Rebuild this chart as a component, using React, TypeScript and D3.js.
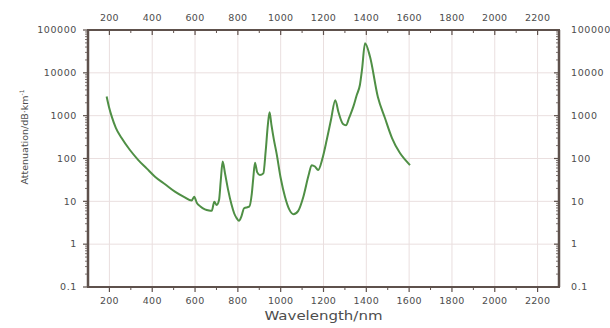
import React, { useEffect, useRef } from 'react';
import * as d3 from 'd3';

// wavelength (nm) and attenuation (dB/km)
const wavelengths = [187, 198, 211, 230, 257, 295, 335, 375, 413, 460, 506, 550, 584, 596, 608, 625, 646, 665, 678, 690, 701, 712, 720, 729, 740, 755, 770, 783, 795, 805, 817, 829, 853, 865, 872, 880, 890, 903, 919, 930, 940, 948, 957, 968, 981, 1000, 1020, 1040, 1060, 1082, 1106, 1130, 1145, 1160, 1175, 1195, 1215, 1235, 1255, 1270, 1290, 1305, 1320, 1339, 1355, 1370, 1380, 1394, 1417, 1454, 1487, 1520, 1557, 1580, 1604];
const attenuation = [2800, 1600, 950, 520, 300, 160, 92, 58, 37.6, 25, 16.8, 12.5, 10.4, 12.8, 9.3, 7.6, 6.5, 6.1, 6, 9.8, 8.2, 10.7, 30, 85, 45, 18, 8.5, 5.2, 4, 3.5, 4.5, 6.9, 7.5, 15, 35, 80, 48, 41, 45, 150, 600, 1200, 600, 280, 130, 35, 12.8, 6.5, 5, 6, 12.8, 40, 70, 65, 54, 100, 270, 800, 2300, 1200, 650, 600, 900, 1600, 3000, 5200, 12000, 49000, 24000, 2730, 880, 300, 134, 95, 70];

const xTicks = [200, 400, 600, 800, 1000, 1200, 1400, 1600, 1800, 2000, 2200];
const yTicks = [0.1, 1, 10, 100, 1000, 10000, 100000];
const yTickLabels = ['0.1', '1', '10', '100', '1000', '10000', '100000'];

const W = 610;
const H = 328;
const axisColor = '#5e514c';
const gridColor = '#eadfdf';
const textColor = '#4d4d4d';
const font = 'DejaVu Sans, sans-serif';

const App = () => {
    const svgRef = useRef<SVGSVGElement>(null);

    useEffect(() => {
        if (!svgRef.current) return;
        const svg = d3.select(svgRef.current);
        svg.selectAll('*').remove();

        const x = d3.scaleLinear().domain([100, 2300]).range([88, 559]);
        const y = d3.scaleLog().domain([0.1, 100000]).range([287, 30]);
        const [x0, x1] = x.range();
        const [y0, y1] = y.range();

        // grid
        const grid = svg.append('g').attr('stroke', gridColor).attr('stroke-width', 1);
        xTicks.forEach(t => grid.append('line').attr('x1', x(t)).attr('x2', x(t)).attr('y1', y1).attr('y2', y0));
        yTicks.slice(1, -1).forEach(t => grid.append('line').attr('x1', x0).attr('x2', x1).attr('y1', y(t)).attr('y2', y(t)));

        // curve
        const data = wavelengths.map((w, i) => [w, attenuation[i]] as [number, number]);
        const line = d3.line<[number, number]>()
            .x(d => x(d[0]))
            .y(d => y(d[1]))
            .curve(d3.curveMonotoneX);
        svg.append('path')
            .datum(data)
            .attr('d', line)
            .attr('fill', 'none')
            .attr('stroke', '#4f8f45')
            .attr('stroke-width', 2)
            .attr('stroke-linejoin', 'round');

        // frame
        const ax = svg.append('g').attr('stroke', axisColor);
        ax.append('line').attr('x1', x0 - 1).attr('x2', x1 + 1).attr('y1', y1).attr('y2', y1).attr('stroke-width', 2);
        ax.append('line').attr('x1', x0 - 1).attr('x2', x1 + 1).attr('y1', y0).attr('y2', y0).attr('stroke-width', 2);
        ax.append('line').attr('x1', x0).attr('x2', x0).attr('y1', y1).attr('y2', y0).attr('stroke-width', 2.5);
        ax.append('line').attr('x1', x1).attr('x2', x1).attr('y1', y1).attr('y2', y0).attr('stroke-width', 2.5);

        // x ticks (major + minor), top pointing in, bottom pointing out
        const minorX = d3.range(300, 2300, 200);
        xTicks.forEach(t => {
            ax.append('line').attr('x1', x(t)).attr('x2', x(t)).attr('y1', y1).attr('y2', y1 + 5).attr('stroke-width', 1.2);
            ax.append('line').attr('x1', x(t)).attr('x2', x(t)).attr('y1', y0).attr('y2', y0 + 5).attr('stroke-width', 1.2);
        });
        minorX.forEach(t => {
            ax.append('line').attr('x1', x(t)).attr('x2', x(t)).attr('y1', y1).attr('y2', y1 + 3).attr('stroke-width', 1);
            ax.append('line').attr('x1', x(t)).attr('x2', x(t)).attr('y1', y0).attr('y2', y0 + 3).attr('stroke-width', 1);
        });

        // y ticks (log minor)
        yTicks.forEach(t => {
            ax.append('line').attr('x1', x0 - 5).attr('x2', x0).attr('y1', y(t)).attr('y2', y(t)).attr('stroke-width', 1.2);
            ax.append('line').attr('x1', x1 - 5).attr('x2', x1).attr('y1', y(t)).attr('y2', y(t)).attr('stroke-width', 1.2);
        });
        yTicks.slice(0, -1).forEach(t => {
            d3.range(2, 10).forEach(m => {
                const v = t * m;
                ax.append('line').attr('x1', x0 - 3).attr('x2', x0).attr('y1', y(v)).attr('y2', y(v)).attr('stroke-width', 0.8);
                ax.append('line').attr('x1', x1 - 3).attr('x2', x1).attr('y1', y(v)).attr('y2', y(v)).attr('stroke-width', 0.8);
            });
        });

        // tick labels
        const lbl = svg.append('g').attr('fill', textColor).attr('font-family', font);
        xTicks.forEach(t => {
            lbl.append('text').attr('x', x(t)).attr('y', y1 - 9).attr('text-anchor', 'middle')
                .attr('font-size', 9.5).attr('letter-spacing', 0.3).text(t);
            lbl.append('text').attr('x', x(t)).attr('y', y0 + 17).attr('text-anchor', 'middle')
                .attr('font-size', 9.5).attr('letter-spacing', 0.3).text(t);
        });
        yTicks.forEach((t, i) => {
            lbl.append('text').attr('x', x0 - 11).attr('y', y(t)).attr('dy', '0.35em').attr('text-anchor', 'end')
                .attr('font-size', 9.5).attr('letter-spacing', 0.6).text(yTickLabels[i]);
            lbl.append('text').attr('x', x1 + 12).attr('y', y(t)).attr('dy', '0.35em').attr('text-anchor', 'start')
                .attr('font-size', 9.5).attr('letter-spacing', 0.6).text(yTickLabels[i]);
        });

        // axis titles
        lbl.append('text')
            .attr('x', (x0 + x1) / 2).attr('y', 320).attr('text-anchor', 'middle')
            .attr('font-size', 11.5).attr('textLength', 118).attr('lengthAdjust', 'spacingAndGlyphs')
            .text('Wavelength/nm');
        const yt = lbl.append('text')
            .attr('transform', `translate(28,137) rotate(-90)`)
            .attr('text-anchor', 'middle')
            .attr('font-size', 9.5);
        yt.append('tspan').text('Attenuation/dB·km');
        yt.append('tspan').attr('dy', -4).attr('font-size', 6).text('-1');
    }, []);

    return (
        <svg
            ref={svgRef}
            width={W}
            height={H}
            style={{ position: 'absolute', left: 0, top: 0, background: '#fff' }}
        />
    );
};

export default App;
